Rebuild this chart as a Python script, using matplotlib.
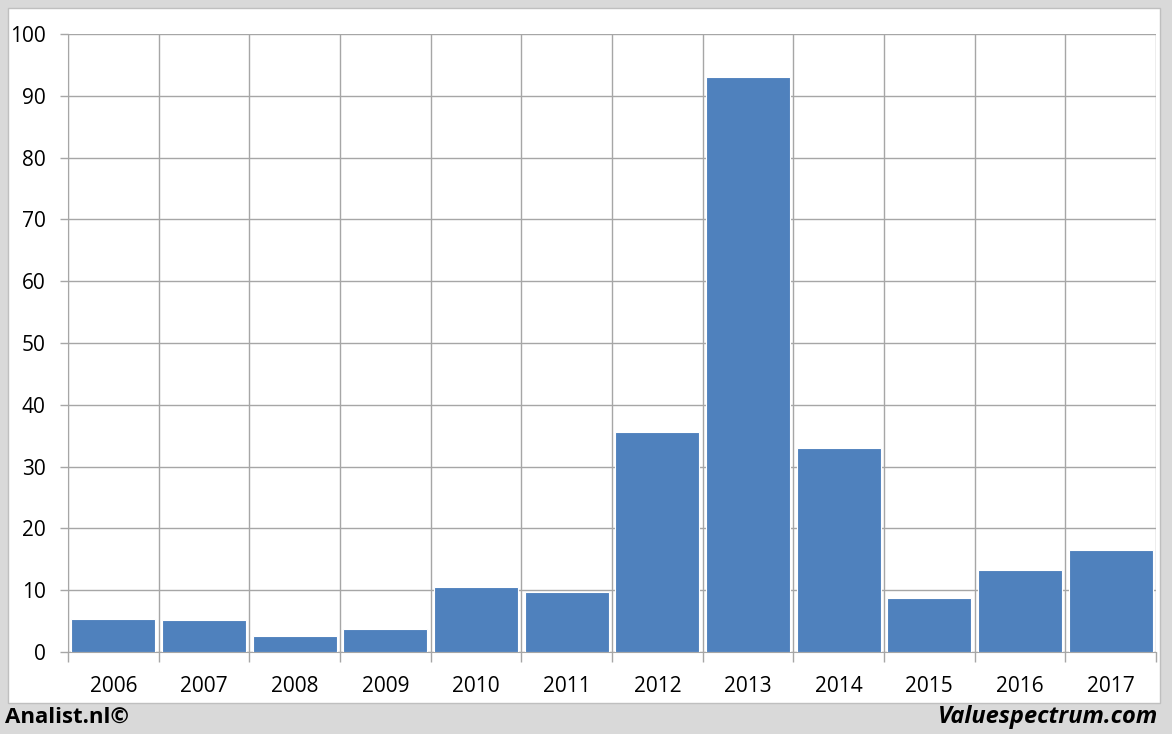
import numpy as np
from matplotlib import pyplot as plt
from matplotlib.patches import Rectangle

years = ['2006', '2007', '2008', '2009', '2010', '2011',
         '2012', '2013', '2014', '2015', '2016', '2017']
values = [5.3, 5.2, 2.6, 3.7, 10.5, 9.7, 35.6, 93.0, 33.0, 8.7, 13.3, 16.5]
y_ticks = [0, 10, 20, 30, 40, 50, 60, 70, 80, 90, 100]

W, H = 1172, 734
fig = plt.figure(figsize=(W / 100, H / 100), dpi=100)
fig.patch.set_facecolor('#d9d9d9')

# white inner panel, kept behind the axes
fig.patches.append(Rectangle((8 / W, 1 - 703 / H), (1160 - 8) / W, (703 - 8) / H,
                             transform=fig.transFigure, facecolor='white',
                             edgecolor='#bfbfbf', linewidth=1, zorder=-10))

ax = fig.add_axes([68 / W, 1 - 652 / H, (1156 - 68) / W, (652 - 34) / H])
ax.set_facecolor('white')

x = np.arange(len(years))
ax.bar(x, values, width=0.93, color='#4f81bd', edgecolor='white', linewidth=0.8, zorder=3)

ax.set_xlim(-0.5, len(years) - 0.5)
ax.set_ylim(0, 100)
ax.set_yticks(y_ticks)
ax.set_yticklabels([str(v) for v in y_ticks])

# vertical grid lines at category boundaries
for b in np.arange(-0.5, len(years), 1.0):
    ax.axvline(b, color='#a6a6a6', linewidth=1, zorder=1)
ax.yaxis.grid(True, color='#a6a6a6', linewidth=1, zorder=1)

ax.set_xticks(x)
ax.set_xticklabels(years)
ax.set_xticks(np.arange(-0.5, len(years), 1.0), minor=True)
ax.tick_params(axis='x', which='major', length=0, pad=17, labelsize=15)
ax.tick_params(axis='x', which='minor', length=7, color='#a6a6a6', width=1)
ax.tick_params(axis='y', length=6, color='#a6a6a6', width=1, pad=10, labelsize=15)

for s in ['top', 'right']:
    ax.spines[s].set_visible(False)
ax.spines['left'].set_color('#a6a6a6')
ax.spines['bottom'].set_color('#a6a6a6')
ax.set_axisbelow(True)

for lbl in ax.get_xticklabels() + ax.get_yticklabels():
    lbl.set_fontfamily('Open Sans')

fig.text(5 / W, 1 - 717 / H, 'Analist.nl©', fontsize=16, fontweight='bold',
         family='Open Sans', ha='left', va='center')
fig.text(1158 / W, 1 - 717 / H, 'Valuespectrum.com', fontsize=17, fontweight='bold',
         fontstyle='italic', family='Open Sans', ha='right', va='center')

fig.savefig('out.png', dpi=100, facecolor=fig.get_facecolor())
